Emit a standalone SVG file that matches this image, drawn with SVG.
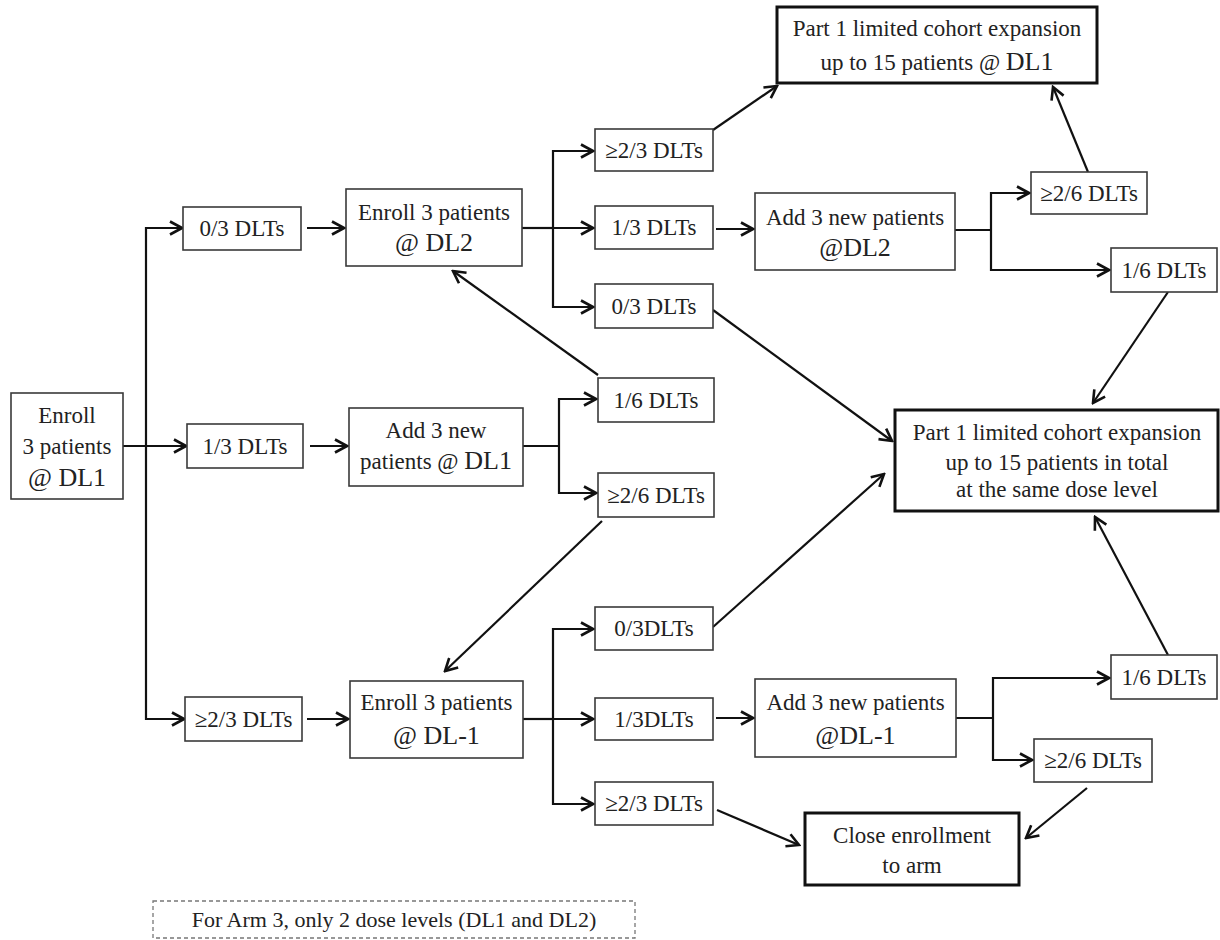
<svg xmlns="http://www.w3.org/2000/svg" width="1220" height="940" viewBox="0 0 1220 940">
<style>
.bx{fill:#fff;stroke:#3a3a3a;stroke-width:1.6}
.tk{fill:#fff;stroke:#111;stroke-width:3}
.ds{fill:none;stroke:#777;stroke-width:1.3;stroke-dasharray:4 3}
text{font-family:"Liberation Serif","Times New Roman",serif;font-size:23px;fill:#222;text-anchor:middle}
.big{font-size:26px}
.sm{font-size:22px}
.cn path{fill:none;stroke:#111;stroke-width:2.2}
</style>
<defs>
<marker id="ar" viewBox="0 0 16 16" refX="14" refY="8" markerWidth="16" markerHeight="16" markerUnits="userSpaceOnUse" orient="auto">
<path d="M2,1.5 L14,8 L2,14.5" fill="none" stroke="#111" stroke-width="2.6"/>
</marker>
</defs>
<rect width="1220" height="940" fill="#fff"/>
<g class="cn" id="connectors">
<path d="M123,446 H186" marker-end="url(#ar)"/>
<path d="M146,446 V228 H182" marker-end="url(#ar)"/>
<path d="M146,446 V719 H184" marker-end="url(#ar)"/>
<path d="M307,228 H344" marker-end="url(#ar)"/>
<path d="M310,446 H347" marker-end="url(#ar)"/>
<path d="M307,719 H348" marker-end="url(#ar)"/>
<path d="M522,228 H553"/>
<path d="M553,228 V151 H593" marker-end="url(#ar)"/>
<path d="M553,228 H593" marker-end="url(#ar)"/>
<path d="M553,228 V307 H593" marker-end="url(#ar)"/>
<path d="M523,446 H559"/>
<path d="M559,446 V399 H596" marker-end="url(#ar)"/>
<path d="M559,446 V493 H596" marker-end="url(#ar)"/>
<path d="M523,719 H553"/>
<path d="M553,719 V629 H593" marker-end="url(#ar)"/>
<path d="M553,719 H593" marker-end="url(#ar)"/>
<path d="M553,719 V804 H593" marker-end="url(#ar)"/>
<path d="M716,229 H753" marker-end="url(#ar)"/>
<path d="M955,230 H991"/>
<path d="M991,230 V193 H1029" marker-end="url(#ar)"/>
<path d="M991,230 V270 H1109" marker-end="url(#ar)"/>
<path d="M716,718 H753" marker-end="url(#ar)"/>
<path d="M956,718 H993"/>
<path d="M993,718 V678 H1109" marker-end="url(#ar)"/>
<path d="M993,718 V760 H1032" marker-end="url(#ar)"/>
<path d="M713,130 L777,86" marker-end="url(#ar)"/>
<path d="M1088,172 L1053,87" marker-end="url(#ar)"/>
<path d="M598,375 L453,271" marker-end="url(#ar)"/>
<path d="M713,310 L892,441" marker-end="url(#ar)"/>
<path d="M1168,292 L1093,403" marker-end="url(#ar)"/>
<path d="M602,521 L445,671" marker-end="url(#ar)"/>
<path d="M713,627 L884,474" marker-end="url(#ar)"/>
<path d="M1168,655 L1095,517" marker-end="url(#ar)"/>
<path d="M717,810 L799,845" marker-end="url(#ar)"/>
<path d="M1087,788 L1026,838" marker-end="url(#ar)"/>
</g>
<g id="n-enroll-dl1"><rect class="bx" x="11" y="393" width="112" height="106"/><text x="67" y="423">Enroll</text><text x="67" y="454">3 patients</text><text x="67" y="486" class="big">@  DL1</text></g>
<g id="n-a03"><rect class="bx" x="183" y="207" width="118" height="43"/><text x="242" y="236">0/3 DLTs</text></g>
<g id="n-a13"><rect class="bx" x="187" y="424" width="116" height="44"/><text x="245" y="454">1/3 DLTs</text></g>
<g id="n-a23"><rect class="bx" x="185" y="697" width="117" height="44"/><text x="243.5" y="727">≥2/3 DLTs</text></g>
<g id="n-enroll-dl2"><rect class="bx" x="346" y="189" width="176" height="77"/><text x="434" y="220">Enroll 3 patients</text><text x="434" y="251" class="big">@  DL2</text></g>
<g id="n-add-dl1"><rect class="bx" x="349" y="408" width="174" height="78"/><text x="436" y="438">Add 3 new</text><text x="436" y="469">patients @ <tspan class="big">DL1</tspan></text></g>
<g id="n-enroll-dlm1"><rect class="bx" x="350" y="681" width="173" height="77"/><text x="436.5" y="710">Enroll 3 patients</text><text x="436.5" y="744" class="big">@  DL-1</text></g>
<g id="n-b23"><rect class="bx" x="595" y="129" width="118" height="42"/><text x="654" y="158">≥2/3 DLTs</text></g>
<g id="n-b13"><rect class="bx" x="595" y="206" width="118" height="43"/><text x="654" y="235">1/3 DLTs</text></g>
<g id="n-b03"><rect class="bx" x="595" y="284" width="118" height="44"/><text x="654" y="314">0/3 DLTs</text></g>
<g id="n-c16"><rect class="bx" x="598" y="378" width="116" height="44"/><text x="656" y="408">1/6 DLTs</text></g>
<g id="n-c26"><rect class="bx" x="598" y="473" width="116" height="44"/><text x="656" y="503">≥2/6 DLTs</text></g>
<g id="n-d03"><rect class="bx" x="595" y="607" width="118" height="43"/><text x="654" y="636">0/3DLTs</text></g>
<g id="n-d13"><rect class="bx" x="595" y="698" width="118" height="42"/><text x="654" y="727">1/3DLTs</text></g>
<g id="n-d23"><rect class="bx" x="595" y="782" width="118" height="43"/><text x="654" y="811">≥2/3 DLTs</text></g>
<g id="n-exp-dl1"><rect class="tk" x="777" y="7" width="320" height="76"/><text x="937" y="36">Part 1 limited cohort expansion</text><text x="937" y="70">up to 15 patients @ <tspan class="big">DL1</tspan></text></g>
<g id="n-add-dl2"><rect class="bx" x="755" y="193" width="200" height="77"/><text x="855" y="225">Add 3 new patients</text><text x="855" y="256" class="big">@DL2</text></g>
<g id="n-e26"><rect class="bx" x="1031" y="172" width="116" height="42"/><text x="1089" y="201">≥2/6 DLTs</text></g>
<g id="n-e16"><rect class="bx" x="1111" y="248" width="106" height="44"/><text x="1164" y="278">1/6 DLTs</text></g>
<g id="n-exp-same"><rect class="tk" x="895" y="410" width="323" height="101"/><text x="1057" y="440">Part 1 limited cohort expansion</text><text x="1057" y="470">up to 15 patients in total</text><text x="1057" y="497">at the same dose level</text></g>
<g id="n-add-dlm1"><rect class="bx" x="755" y="679" width="201" height="78"/><text x="855.5" y="710">Add 3 new patients</text><text x="855.5" y="744" class="big">@DL-1</text></g>
<g id="n-f16"><rect class="bx" x="1111" y="655" width="106" height="44"/><text x="1164" y="685">1/6 DLTs</text></g>
<g id="n-f26"><rect class="bx" x="1034" y="739" width="118" height="43"/><text x="1093" y="768">≥2/6 DLTs</text></g>
<g id="n-close"><rect class="tk" x="805" y="813" width="214" height="72"/><text x="912" y="843">Close enrollment</text><text x="912" y="873">to arm</text></g>
<g id="n-note"><rect class="ds" x="153" y="901" width="482" height="37"/><text x="394" y="927" class="sm">For Arm 3, only 2 dose levels (DL1 and  DL2)</text></g>
</svg>
